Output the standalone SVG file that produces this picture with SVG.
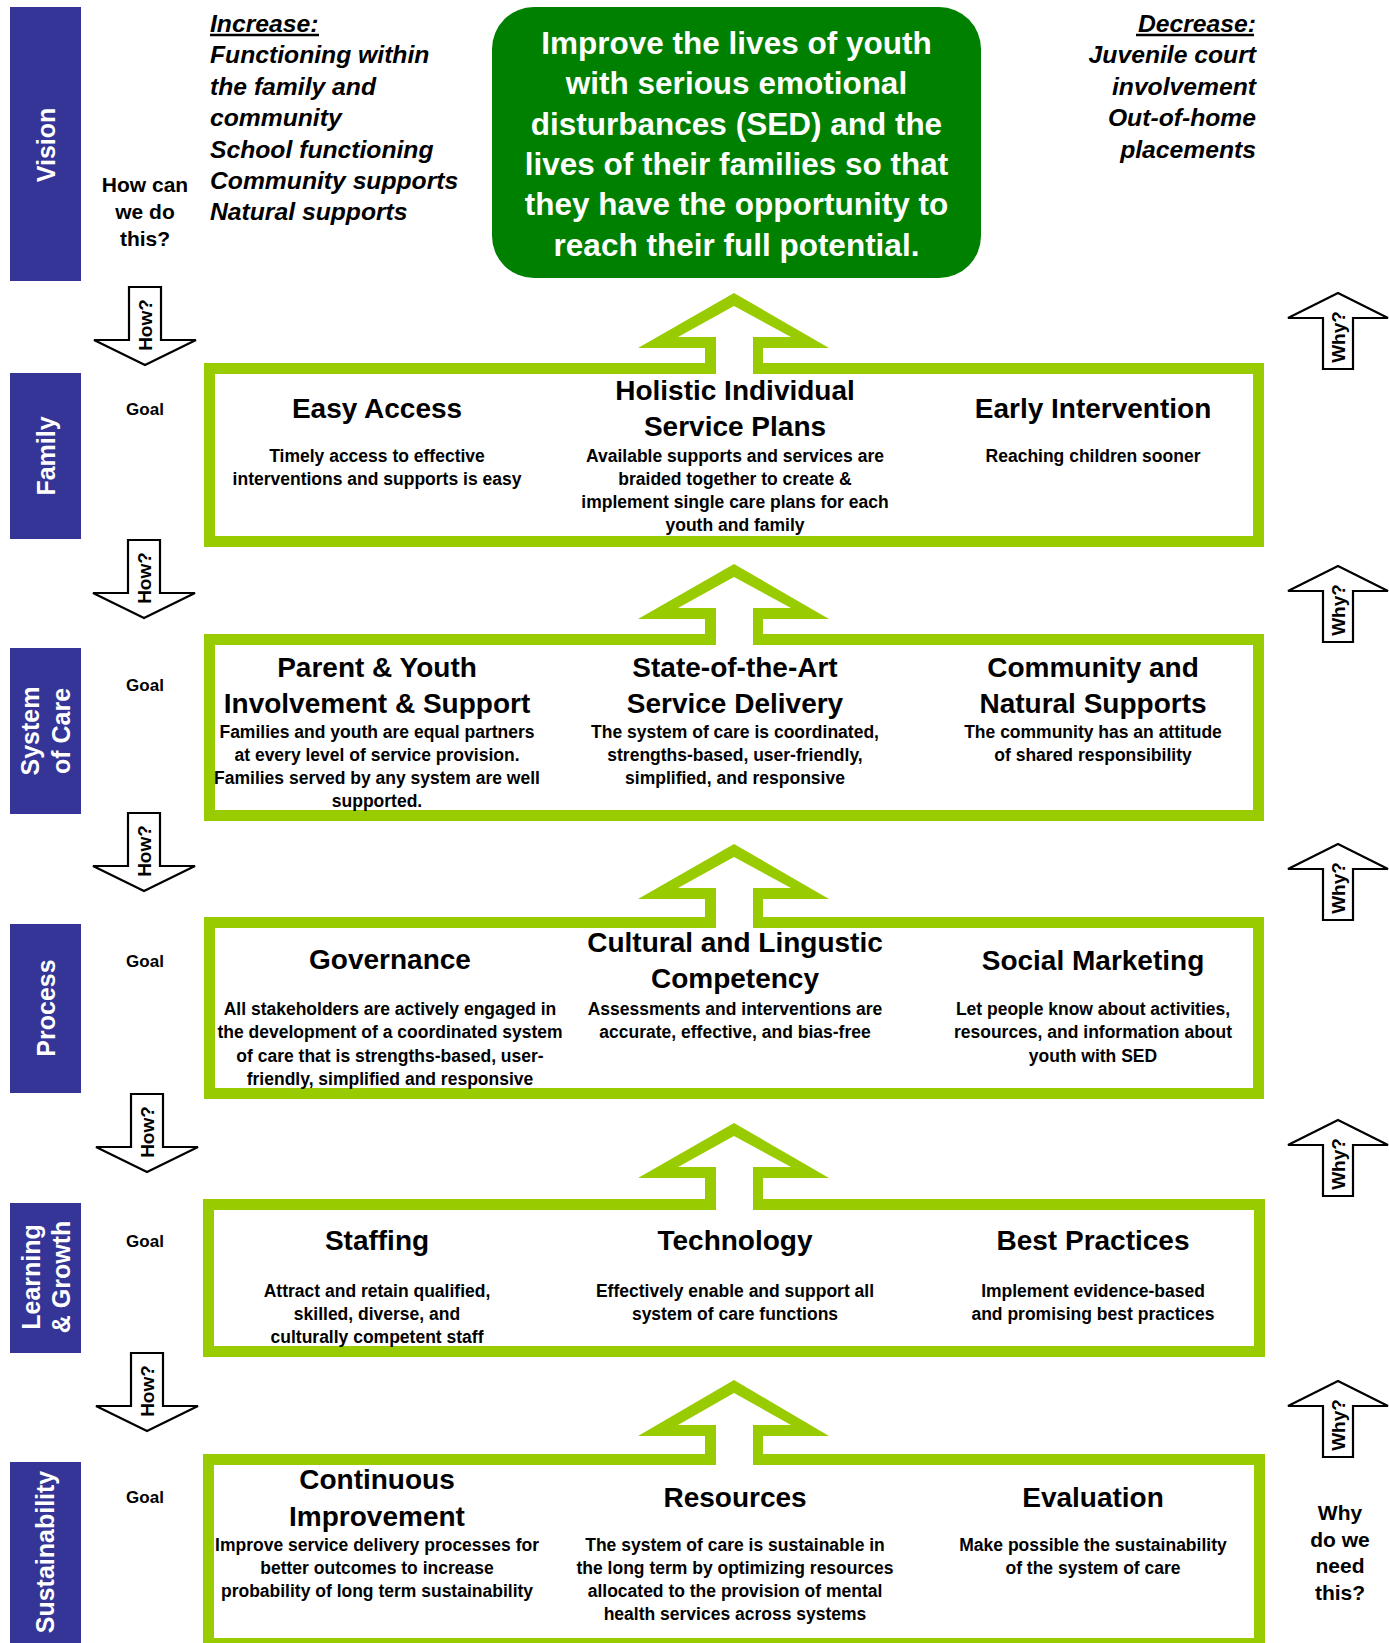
<svg xmlns="http://www.w3.org/2000/svg" width="1389" height="1643" viewBox="0 0 1389 1643">
<style>
text{font-family:"Liberation Sans",Arial,Helvetica,sans-serif;font-weight:bold;fill:#000}
.bar{fill:#353597}
.bt{fill:#fff;font-size:25px;text-anchor:middle}
.vis{fill:#fff;font-size:31.5px;text-anchor:middle}
.it{font-size:24.7px;font-style:italic}
.end{text-anchor:end}
.q{font-size:21px;text-anchor:middle}
.goal{font-size:17px;text-anchor:middle}
.ti{font-size:28px;text-anchor:middle}
.de{font-size:17.5px;text-anchor:middle}
.gbox{fill:none;stroke:#99CC00;stroke-width:11}
.gout{fill:#99CC00}
.gin{fill:#fff}
.bw{fill:#fff;stroke:#000;stroke-width:2.2;stroke-linejoin:miter}
.at{font-size:19px;text-anchor:middle}
.ul{stroke:#000;stroke-width:2.4}
</style>
<defs>
<path id="howShape" d="M-16,0 H16 V53 H51 L0,78 L-51,53 H-16 Z"/>
<path id="whyShape" d="M0,0 L50,25 H15 V76 H-15 V25 H-50 Z"/>
</defs>
<rect width="1389" height="1643" fill="#fff"/>

<!-- Side bars -->
<g id="bar-vision"><rect class="bar" x="10" y="7" width="71" height="274"/><text class="bt" transform="translate(55,145) rotate(-90)">Vision</text></g>
<g id="bar-family"><rect class="bar" x="10" y="373" width="71" height="166"/><text class="bt" transform="translate(55,456) rotate(-90)">Family</text></g>
<g id="bar-soc"><rect class="bar" x="10" y="648" width="71" height="166"/><text class="bt" transform="translate(39,731) rotate(-90)">System</text><text class="bt" transform="translate(70,731) rotate(-90)">of Care</text></g>
<g id="bar-process"><rect class="bar" x="10" y="924" width="71" height="169"/><text class="bt" transform="translate(55,1008) rotate(-90)">Process</text></g>
<g id="bar-lg"><rect class="bar" x="10" y="1203" width="71" height="150"/><text class="bt" transform="translate(40,1277) rotate(-90)">Learning</text><text class="bt" transform="translate(70,1277) rotate(-90)">&amp; Growth</text></g>
<g id="bar-sust"><rect class="bar" x="10" y="1462" width="71" height="190"/><text class="bt" transform="translate(54,1552) rotate(-90)">Sustainability</text></g>

<!-- Vision -->
<g id="vision">
<rect x="492" y="7" width="489" height="271" rx="42" ry="42" fill="#008000"/>
<text class="vis" x="736.5" y="54">Improve the lives of youth</text>
<text class="vis" x="736.5" y="94.3">with serious emotional</text>
<text class="vis" x="736.5" y="134.6">disturbances (SED) and the</text>
<text class="vis" x="736.5" y="174.9">lives of their families so that</text>
<text class="vis" x="736.5" y="215.2">they have the opportunity to</text>
<text class="vis" x="736.5" y="255.5">reach their full potential.</text>
</g>
<g id="increase">
<text class="it" x="210" y="31.7">Increase:</text>
<line class="ul" x1="210" y1="35" x2="319" y2="35"/>
<text class="it" x="210" y="63">Functioning within</text>
<text class="it" x="210" y="94.5">the family and</text>
<text class="it" x="210" y="126">community</text>
<text class="it" x="210" y="157.5">School functioning</text>
<text class="it" x="210" y="189">Community supports</text>
<text class="it" x="210" y="220">Natural supports</text>
</g>
<g id="decrease">
<text class="it end" x="1256" y="31.7">Decrease:</text>
<line class="ul" x1="1136" y1="35" x2="1254" y2="35"/>
<text class="it end" x="1256" y="63">Juvenile court</text>
<text class="it end" x="1256" y="94.5">involvement</text>
<text class="it end" x="1256" y="126">Out-of-home</text>
<text class="it end" x="1256" y="157.5">placements</text>
</g>
<g id="how-question">
<text class="q" x="145" y="192">How can</text>
<text class="q" x="145" y="219">we do</text>
<text class="q" x="145" y="246">this?</text>
</g>
<g id="why-question">
<text class="q" x="1340" y="1520">Why</text>
<text class="q" x="1340" y="1547">do we</text>
<text class="q" x="1340" y="1573">need</text>
<text class="q" x="1340" y="1600">this?</text>
</g>

<!-- Goal labels -->
<g id="goals">
<text class="goal" x="145" y="415">Goal</text>
<text class="goal" x="145" y="691">Goal</text>
<text class="goal" x="145" y="967">Goal</text>
<text class="goal" x="145" y="1247">Goal</text>
<text class="goal" x="145" y="1503">Goal</text>
</g>

<!-- Boxes -->
<g id="box-family">
<rect class="gbox" x="209.5" y="368.5" width="1049" height="173"/>
<g id="easy-access">
<text class="ti" x="377" y="418">Easy Access</text>
<text class="de" x="377" y="462">Timely access to effective</text>
<text class="de" x="377" y="485">interventions and supports is easy</text>
</g>
<g id="holistic">
<text class="ti" x="735" y="399.5">Holistic Individual</text>
<text class="ti" x="735" y="435.5">Service Plans</text>
<text class="de" x="735" y="462">Available supports and services are</text>
<text class="de" x="735" y="485">braided together to create &amp;</text>
<text class="de" x="735" y="508">implement single care plans for each</text>
<text class="de" x="735" y="531">youth and family</text>
</g>
<g id="early-intervention">
<text class="ti" x="1093" y="418">Early Intervention</text>
<text class="de" x="1093" y="462">Reaching children sooner</text>
</g>
</g>

<g id="box-soc">
<rect class="gbox" x="209.5" y="639.5" width="1049" height="176"/>
<g id="parent-youth">
<text class="ti" x="377" y="677">Parent &amp; Youth</text>
<text class="ti" x="377" y="713">Involvement &amp; Support</text>
<text class="de" x="377" y="738">Families and youth are equal partners</text>
<text class="de" x="377" y="761">at every level of service provision.</text>
<text class="de" x="377" y="784">Families served by any system are well</text>
<text class="de" x="377" y="807">supported.</text>
</g>
<g id="state-of-art">
<text class="ti" x="735" y="677">State-of-the-Art</text>
<text class="ti" x="735" y="713">Service Delivery</text>
<text class="de" x="735" y="738">The system of care is coordinated,</text>
<text class="de" x="735" y="761">strengths-based, user-friendly,</text>
<text class="de" x="735" y="784">simplified, and responsive</text>
</g>
<g id="community-natural">
<text class="ti" x="1093" y="677">Community and</text>
<text class="ti" x="1093" y="713">Natural Supports</text>
<text class="de" x="1093" y="738">The community has an attitude</text>
<text class="de" x="1093" y="761">of shared responsibility</text>
</g>
</g>

<g id="box-process">
<rect class="gbox" x="209.5" y="922.5" width="1049" height="171"/>
<g id="governance">
<text class="ti" x="390" y="969">Governance</text>
<text class="de" x="390" y="1014.5">All stakeholders are actively engaged in</text>
<text class="de" x="390" y="1038">the development of a coordinated system</text>
<text class="de" x="390" y="1061.5">of care that is strengths-based, user-</text>
<text class="de" x="390" y="1085">friendly, simplified and responsive</text>
</g>
<g id="cultural">
<text class="ti" x="735" y="952">Cultural and Lingustic</text>
<text class="ti" x="735" y="988">Competency</text>
<text class="de" x="735" y="1014.5">Assessments and interventions are</text>
<text class="de" x="735" y="1038">accurate, effective, and bias-free</text>
</g>
<g id="social-marketing">
<text class="ti" x="1093" y="970">Social Marketing</text>
<text class="de" x="1093" y="1014.5">Let people know about activities,</text>
<text class="de" x="1093" y="1038">resources, and information about</text>
<text class="de" x="1093" y="1061.5">youth with SED</text>
</g>
</g>

<g id="box-lg">
<rect class="gbox" x="208.5" y="1204.5" width="1051" height="147"/>
<g id="staffing">
<text class="ti" x="377" y="1250">Staffing</text>
<text class="de" x="377" y="1297">Attract and retain qualified,</text>
<text class="de" x="377" y="1320">skilled, diverse, and</text>
<text class="de" x="377" y="1343">culturally competent staff</text>
</g>
<g id="technology">
<text class="ti" x="735" y="1250">Technology</text>
<text class="de" x="735" y="1297">Effectively enable and support all</text>
<text class="de" x="735" y="1320">system of care functions</text>
</g>
<g id="best-practices">
<text class="ti" x="1093" y="1250">Best Practices</text>
<text class="de" x="1093" y="1297">Implement evidence-based</text>
<text class="de" x="1093" y="1320">and promising best practices</text>
</g>
</g>

<g id="box-sust">
<rect class="gbox" x="208.5" y="1459.5" width="1051" height="184"/>
<g id="continuous">
<text class="ti" x="377" y="1489">Continuous</text>
<text class="ti" x="377" y="1526">Improvement</text>
<text class="de" x="377" y="1550.7">Improve service delivery processes for</text>
<text class="de" x="377" y="1573.5">better outcomes to increase</text>
<text class="de" x="377" y="1596.5">probability of long term sustainability</text>
</g>
<g id="resources">
<text class="ti" x="735" y="1507">Resources</text>
<text class="de" x="735" y="1550.7">The system of care is sustainable in</text>
<text class="de" x="735" y="1573.5">the long term by optimizing resources</text>
<text class="de" x="735" y="1596.5">allocated to the provision of mental</text>
<text class="de" x="735" y="1620">health services across systems</text>
</g>
<g id="evaluation">
<text class="ti" x="1093" y="1507">Evaluation</text>
<text class="de" x="1093" y="1550.7">Make possible the sustainability</text>
<text class="de" x="1093" y="1573.5">of the system of care</text>
</g>
</g>

<!-- Connectors -->
<g id="connectors">
<g id="green-arrows">
<path class="gout" d="M734,293 L829,348 L763,348 V374 H705 V348 L638,348 Z"/>
<path class="gin" d="M734,306 L791,337 L753,337 V374 H716 V337 L678,337 Z"/>
<path class="gout" d="M734,564 L829,619 L763,619 V645 H705 V619 L638,619 Z"/>
<path class="gin" d="M734,577 L791,608 L753,608 V645 H716 V608 L678,608 Z"/>
<path class="gout" d="M734,844 L829,899 L763,899 V928 H705 V899 L638,899 Z"/>
<path class="gin" d="M734,857 L791,888 L753,888 V928 H716 V888 L678,888 Z"/>
<path class="gout" d="M734,1123 L829,1178 L763,1178 V1210 H705 V1178 L638,1178 Z"/>
<path class="gin" d="M734,1136 L791,1167 L753,1167 V1210 H716 V1167 L678,1167 Z"/>
<path class="gout" d="M734,1380 L829,1436 L763,1436 V1465 H705 V1436 L638,1436 Z"/>
<path class="gin" d="M734,1393 L791,1425 L753,1425 V1465 H716 V1425 L678,1425 Z"/>
</g>
<g id="how-arrows">
<use href="#howShape" class="bw" transform="translate(145,287)"/>
<text class="at" transform="translate(152,325) rotate(-90)">How?</text>
<use href="#howShape" class="bw" transform="translate(144,540)"/>
<text class="at" transform="translate(151,578) rotate(-90)">How?</text>
<use href="#howShape" class="bw" transform="translate(144,813)"/>
<text class="at" transform="translate(151,851) rotate(-90)">How?</text>
<use href="#howShape" class="bw" transform="translate(147,1094)"/>
<text class="at" transform="translate(154,1132) rotate(-90)">How?</text>
<use href="#howShape" class="bw" transform="translate(147,1353)"/>
<text class="at" transform="translate(154,1391) rotate(-90)">How?</text>
</g>
<g id="why-arrows">
<use href="#whyShape" class="bw" transform="translate(1338,293)"/>
<text class="at" transform="translate(1345,337) rotate(-90)">Why?</text>
<use href="#whyShape" class="bw" transform="translate(1338,566)"/>
<text class="at" transform="translate(1345,610) rotate(-90)">Why?</text>
<use href="#whyShape" class="bw" transform="translate(1338,844)"/>
<text class="at" transform="translate(1345,888) rotate(-90)">Why?</text>
<use href="#whyShape" class="bw" transform="translate(1338,1120)"/>
<text class="at" transform="translate(1345,1164) rotate(-90)">Why?</text>
<use href="#whyShape" class="bw" transform="translate(1338,1381)"/>
<text class="at" transform="translate(1345,1425) rotate(-90)">Why?</text>
</g>
</g>
</svg>
